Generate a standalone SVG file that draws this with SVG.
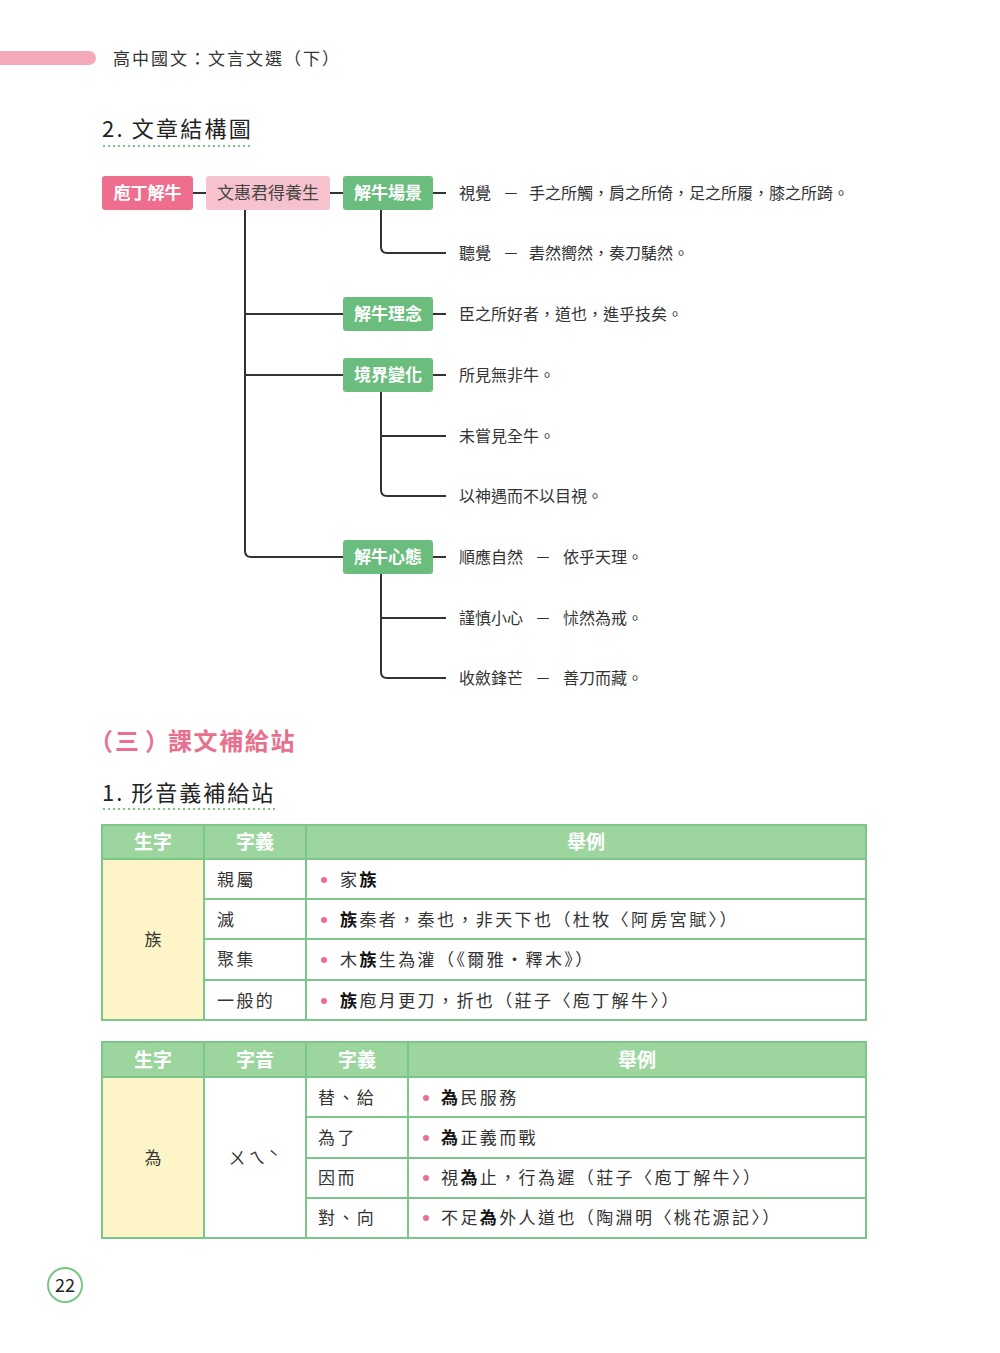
<svg xmlns="http://www.w3.org/2000/svg" width="1000" height="1353" viewBox="0 0 1000 1353">
<style>
text{font-family:"Noto Sans CJK TC","Noto Sans",sans-serif;fill:#333}
.hd{font-size:17px;letter-spacing:2px}
.h2{font-size:22px;letter-spacing:2.2px;fill:#222}
.nw{font-size:17px;font-weight:bold;fill:#fff;text-anchor:middle}
.nd{font-size:17px;fill:#444;text-anchor:middle}
.t{font-size:16px;fill:#333}
.c{stroke:#333;stroke-width:2;fill:none}
.dot{stroke:#7cc68a;stroke-width:2;stroke-dasharray:2 3}
.th{font-size:19px;font-weight:bold;fill:#fff;text-anchor:middle}
.td{font-size:17px;fill:#333;letter-spacing:2.4px}
.tdm{font-size:17px;fill:#333;text-anchor:middle}
.b{font-weight:bold;fill:#111}
.grid{stroke:#7cc68a;stroke-width:2;fill:none}
.bul{fill:#ec6f8f}
.sec{font-size:24px;font-weight:bold;fill:#e8708e}
</style>
<rect x="-10" y="51" width="106" height="14" rx="7" fill="#f5a8b9"/>
<text x="113" y="65" class="hd">高中國文：文言文選（下）</text>
<text x="102" y="137" class="h2">2. 文章結構圖</text>
<line x1="103" y1="146" x2="252" y2="146" class="dot"/>
<g id="connectors">
<path class="c" d="M193 193H206M330 193H343M433 193H446"/>
<path class="c" d="M381 210V247Q381 253 387 253H446"/>
<path class="c" d="M245 210V551Q245 557 251 557H343M245 314H343M245 375H343"/>
<path class="c" d="M433 314H446M433 375H446M433 557H446"/>
<path class="c" d="M381 392V490Q381 496 387 496H446M381 436H446"/>
<path class="c" d="M381 574V672Q381 678 387 678H446M381 618H446"/>
</g>
<g id="n1"><rect x="102" y="176" width="91" height="34" rx="3" fill="#ef6e8e"/><text x="147.5" y="199" class="nw">庖丁解牛</text></g>
<g id="n2"><rect x="206" y="176" width="124" height="34" rx="3" fill="#f6c2cd"/><text x="268" y="199" class="nd">文惠君得養生</text></g>
<g id="n3"><rect x="343" y="176" width="90" height="34" rx="3" fill="#6bbd7d"/><text x="388" y="199" class="nw">解牛場景</text></g>
<g id="n4"><rect x="343" y="297" width="90" height="34" rx="3" fill="#6bbd7d"/><text x="388" y="320" class="nw">解牛理念</text></g>
<g id="n5"><rect x="343" y="358" width="90" height="34" rx="3" fill="#6bbd7d"/><text x="388" y="381" class="nw">境界變化</text></g>
<g id="n6"><rect x="343" y="540" width="90" height="34" rx="3" fill="#6bbd7d"/><text x="388" y="563" class="nw">解牛心態</text></g>
<g id="leaves">
<text x="459" y="199" class="t">視覺</text><text x="503" y="199" class="t">－</text><text x="529" y="199" class="t">手之所觸，肩之所倚，足之所履，膝之所踦。</text>
<text x="459" y="259" class="t">聽覺</text><text x="503" y="259" class="t">－</text><text x="529" y="259" class="t">砉然嚮然，奏刀騞然。</text>
<text x="459" y="320" class="t">臣之所好者，道也，進乎技矣。</text>
<text x="459" y="381" class="t">所見無非牛。</text>
<text x="459" y="442" class="t">未嘗見全牛。</text>
<text x="459" y="502" class="t">以神遇而不以目視。</text>
<text x="459" y="563" class="t">順應自然</text><text x="535" y="563" class="t">－</text><text x="563" y="563" class="t">依乎天理。</text>
<text x="459" y="624" class="t">謹慎小心</text><text x="535" y="624" class="t">－</text><text x="563" y="624" class="t">怵然為戒。</text>
<text x="459" y="684" class="t">收斂鋒芒</text><text x="535" y="684" class="t">－</text><text x="563" y="684" class="t">善刀而藏。</text>
</g>
<text x="89" y="750" class="sec">（<tspan x="115">三</tspan><tspan x="145">）</tspan><tspan x="168" style="letter-spacing:1.6px">課文補給站</tspan></text>
<text x="102" y="801" class="h2" style="letter-spacing:2px">1. 形音義補給站</text>
<line x1="103" y1="809" x2="276" y2="809" class="dot"/>
<g id="table1">
<rect x="102" y="825" width="764" height="34" fill="#9dd59f"/>
<rect x="102" y="859" width="102" height="161" fill="#fdf5c8"/>
<path class="grid" d="M102 825H866V1020H102Z M204 825V1020 M306 825V1020 M102 859H866 M204 899H866 M204 939H866 M204 980H866"/>
<text x="153" y="849" class="th">生字</text><text x="255" y="849" class="th">字義</text><text x="586" y="849" class="th">舉例</text>
<text x="153" y="946" class="tdm">族</text>
<text x="217" y="886" class="td">親屬</text><text x="217" y="926" class="td">滅</text><text x="217" y="966" class="td">聚集</text><text x="217" y="1007" class="td">一般的</text>
<circle cx="324" cy="880" r="3" class="bul"/><circle cx="324" cy="920" r="3" class="bul"/><circle cx="324" cy="960" r="3" class="bul"/><circle cx="324" cy="1001" r="3" class="bul"/>
<text x="340" y="886" class="td">家<tspan class="b">族</tspan></text>
<text x="340" y="926" class="td"><tspan class="b">族</tspan>秦者，秦也，非天下也（杜牧〈阿房宮賦〉）</text>
<text x="340" y="966" class="td">木<tspan class="b">族</tspan>生為灌（《爾雅‧釋木》）</text>
<text x="340" y="1007" class="td"><tspan class="b">族</tspan>庖月更刀，折也（莊子〈庖丁解牛〉）</text>
</g>
<g id="table2">
<rect x="102" y="1042" width="764" height="35" fill="#9dd59f"/>
<rect x="102" y="1077" width="102" height="161" fill="#fdf5c8"/>
<path class="grid" d="M102 1042H866V1238H102Z M204 1042V1238 M306 1042V1238 M408 1042V1238 M102 1077H866 M306 1117H866 M306 1158H866 M306 1198H866"/>
<text x="153" y="1067" class="th">生字</text><text x="255" y="1067" class="th">字音</text><text x="357" y="1067" class="th">字義</text><text x="637" y="1067" class="th">舉例</text>
<text x="153" y="1164" class="tdm">為</text>
<text x="255" y="1164" class="tdm" style="letter-spacing:3px">ㄨㄟˋ</text>
<text x="318" y="1104" class="td">替、給</text><text x="318" y="1144" class="td">為了</text><text x="318" y="1184" class="td">因而</text><text x="318" y="1224" class="td">對、向</text>
<circle cx="426" cy="1098" r="3" class="bul"/><circle cx="426" cy="1138" r="3" class="bul"/><circle cx="426" cy="1178" r="3" class="bul"/><circle cx="426" cy="1218" r="3" class="bul"/>
<text x="441" y="1104" class="td"><tspan class="b">為</tspan>民服務</text>
<text x="441" y="1144" class="td"><tspan class="b">為</tspan>正義而戰</text>
<text x="441" y="1184" class="td">視<tspan class="b">為</tspan>止，行為遲（莊子〈庖丁解牛〉）</text>
<text x="441" y="1224" class="td">不足<tspan class="b">為</tspan>外人道也（陶淵明〈桃花源記〉）</text>
</g>
<circle cx="65" cy="1285" r="17" fill="none" stroke="#7cc68a" stroke-width="2"/>
<text x="65" y="1292" style="font-size:18px;text-anchor:middle;fill:#222">22</text>
</svg>
